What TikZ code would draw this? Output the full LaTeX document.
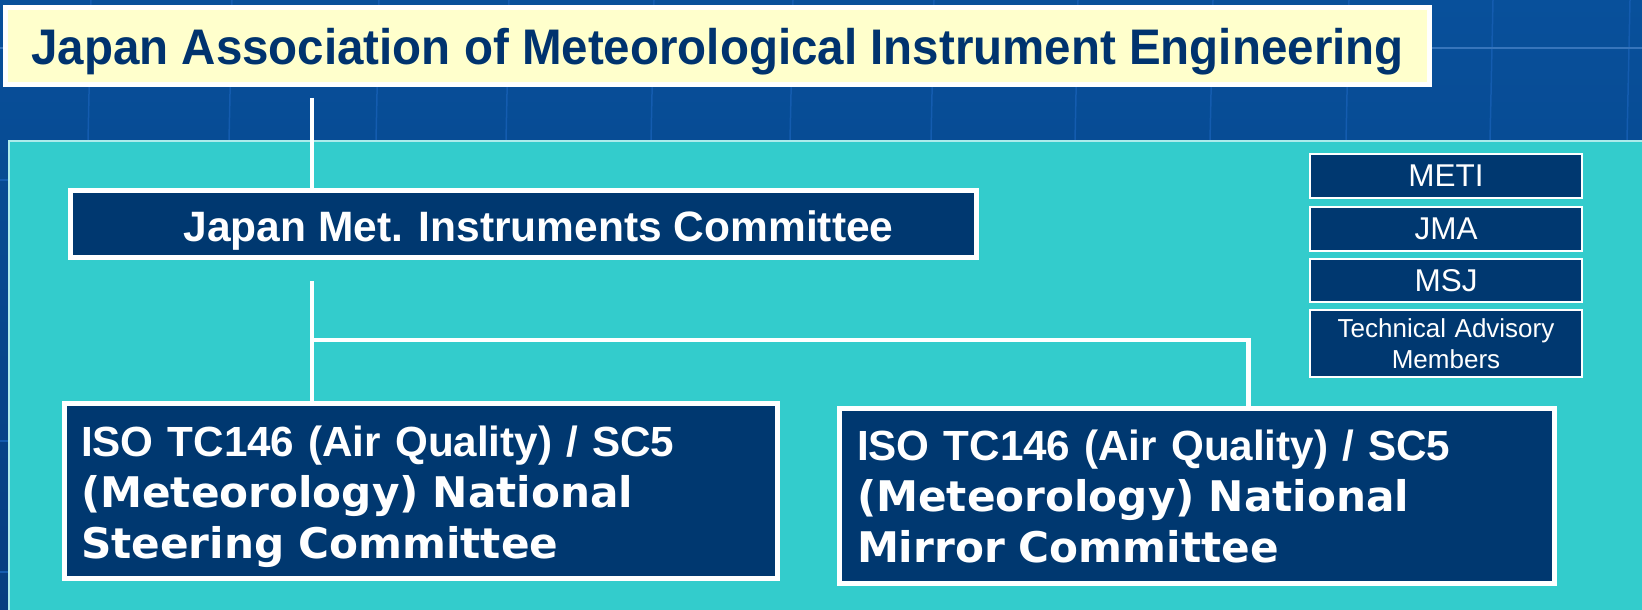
\documentclass[tikz,border=0pt]{standalone}
\usepackage{fontspec}
\setmainfont{Liberation Sans}
\newfontfamily\titleface[FakeStretch=0.95]{Liberation Sans}
\newfontfamily\wideface{DejaVu Sans}
\definecolor{navy}{RGB}{0,56,112}
\definecolor{titleink}{RGB}{0,51,110}
\definecolor{cream}{RGB}{255,255,204}
\definecolor{panel}{RGB}{51,204,204}
\definecolor{bgtop}{RGB}{8,80,155}
\definecolor{bgbot}{RGB}{5,62,128}
\definecolor{gridline}{RGB}{20,92,175}

\begin{document}
\begin{tikzpicture}[x=1pt,y=-1pt]
\tikzstyle{every node}+=[inner sep=0pt]
\tikzstyle{committee}=[draw=white, line width=5pt, fill=navy, text=white]
\tikzstyle{iso}=[committee, minimum width=711pt, minimum height=175pt, text width=680pt, align=left, font=\bfseries\fontsize{42.2}{51}\selectfont]
\tikzstyle{member}=[draw=white, line width=2pt, fill=navy, text=white, minimum width=272pt, font=\fontsize{31.5}{31.5}\selectfont, text height=21pt, text depth=0pt]
\tikzstyle{link}=[draw=white, line width=4.5pt]

\useasboundingbox (0,0) rectangle (1642,610);
% background
\shade[top color=bgtop, bottom color=bgbot] (0,0) rectangle (1642,610);
\foreach \x in {91,232,379,509,654,793,934,1078,1213,1349,1493,1630}
  \draw[gridline, line width=1.5pt] (\x,0) -- (\x-3,141);
\draw[gridline!85!white, line width=2pt] (0,48) -- (1642,48);
\draw[gridline, line width=1.5pt] (0,180) -- (9,180) (0,441) -- (9,441) (0,572) -- (9,572);
\fill[panel] (9,141) rectangle (1642,610);
\draw[white!60!panel, line width=1.5pt] (9,610) -- (9,141) -- (1642,141);

% association
\node[draw=white, line width=5pt, fill=cream, text=titleink, minimum width=1424pt, minimum height=77pt,
  text height=38pt, text depth=0pt, font=\titleface\bfseries\fontsize{50}{50}\selectfont] (jamie) at (717.5,46)
  {Japan Association of Meteorological Instrument Engineering};

% committees
\node[committee, minimum width=906pt, minimum height=67pt, text height=34pt, text depth=0pt,
  font=\bfseries\fontsize{42.5}{42.5}\selectfont] (jmic) at (523.5,224)
  {\hspace*{30pt}Japan Met. Instruments Committee};
\node[iso, inner xsep=16.5pt, text height=0pt, text depth=70pt] (nsc) at (421,491)
  {ISO TC146 (Air Quality) / SC5\\{\wideface (Meteorology) National}\\{\wideface Steering Committee}};
\node[iso, inner xsep=17.5pt, text height=0pt, text depth=72pt] (nmc) at (1197,496)
  {ISO TC146 (Air Quality) / SC5\\{\wideface (Meteorology) National}\\{\wideface Mirror Committee}};

% advisory members
\node[member, minimum height=44pt] (meti) at (1446,176) {METI};
\node[member, minimum height=44pt] (jma) at (1446,229) {JMA};
\node[member, minimum height=43pt] (msj) at (1446,280.5) {MSJ};
\node[member, minimum height=67pt, text width=272pt, align=center, text height=0pt, text depth=12.4pt,
  font=\fontsize{26}{31}\selectfont] (tam) at (1446,343.5) {Technical Advisory\\Members};

% connectors
\coordinate (up) at (312,98);
\coordinate (down) at (312,281);
\coordinate (turn) at (1248.5,340);
\draw[link] (up) -- (up |- jmic.north);
\draw[link] (down) -- (down |- nsc.north);
\draw[link] (down |- turn) -- (turn) -- (turn |- nmc.north);
\end{tikzpicture}
\end{document}
